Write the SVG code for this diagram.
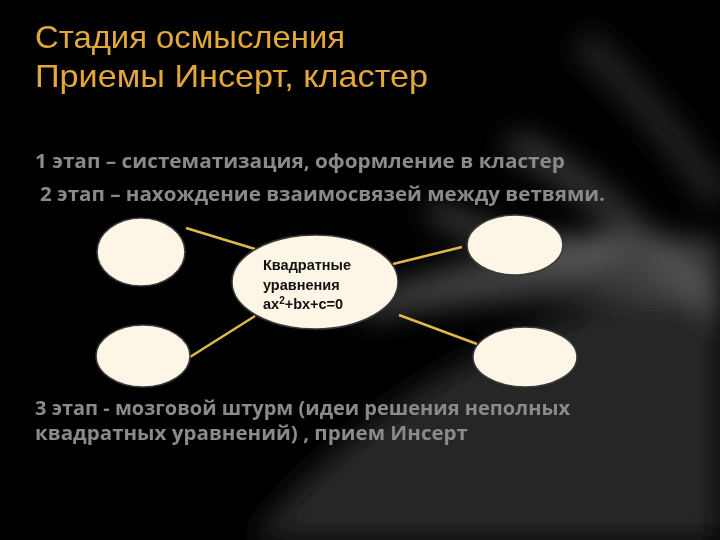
<svg xmlns="http://www.w3.org/2000/svg" width="720" height="540" viewBox="0 0 720 540">
<defs>
<filter id="blur"><feGaussianBlur stdDeviation="14"/></filter>
<style>
.t{font-family:"Liberation Sans",sans-serif;fill:#e4a83a;font-size:32px}
.s{font-family:"Open Sans","Liberation Sans",sans-serif;font-weight:bold;fill:#8a8a8a;font-size:20px}
.n{fill:#fdf5e6;stroke:#3a3a3a;stroke-width:1.5}
.c{stroke:#e0b84a;stroke-width:2.5}
.l{font-family:"Liberation Sans",sans-serif;font-weight:bold;font-size:14.5px;fill:#111}
</style>
</defs>
<rect width="720" height="540" fill="#000"/>
<g filter="url(#blur)">
<path d="M250 540 C380 380 560 300 720 280 L720 540 Z" fill="#262626"/>
<path d="M360 300 C470 250 600 230 720 240 L720 300 C600 290 480 300 360 320 Z" fill="#5a5a5a" opacity="0.7"/>
<path d="M520 130 C600 170 660 230 720 300 L720 330 C650 260 590 200 500 150 Z" fill="#666" opacity="0.5"/>
<path d="M430 210 C500 240 560 260 620 240" stroke="#ccc" stroke-width="18" fill="none" opacity="0.35"/>
<path d="M580 40 C640 90 690 160 720 200" stroke="#444" stroke-width="30" fill="none" opacity="0.5"/>
</g>
<text class="t" x="35" y="48" textLength="310" lengthAdjust="spacingAndGlyphs">Стадия осмысления</text>
<text class="t" x="35" y="87" textLength="393" lengthAdjust="spacingAndGlyphs">Приемы  Инсерт, кластер</text>
<text class="s" x="35" y="168" textLength="530" lengthAdjust="spacingAndGlyphs">1  этап – систематизация, оформление в кластер</text>
<text class="s" x="40" y="201" textLength="565" lengthAdjust="spacingAndGlyphs">2  этап – нахождение взаимосвязей между ветвями.</text>
<g id="connectors">
<line class="c" x1="186" y1="228" x2="255" y2="249"/>
<line class="c" x1="462" y1="247" x2="393" y2="264"/>
<line class="c" x1="190" y1="357" x2="255" y2="316"/>
<line class="c" x1="399" y1="315" x2="477" y2="344"/>
</g>
<g id="n1"><ellipse class="n" cx="141" cy="252" rx="44" ry="34"/></g>
<g id="n2"><ellipse class="n" cx="515" cy="245" rx="48" ry="30"/></g>
<g id="n3"><ellipse class="n" cx="143" cy="356" rx="47" ry="31"/></g>
<g id="n4"><ellipse class="n" cx="525" cy="357" rx="52" ry="30"/></g>
<g id="center"><ellipse class="n" cx="315" cy="282" rx="83" ry="47"/>
<text class="l" x="263" y="270">Квадратные</text>
<text class="l" x="263" y="290">уравнения</text>
<text class="l" x="263" y="309">ax<tspan font-size="10" dy="-5">2</tspan><tspan dy="5">+bx+c=0</tspan></text>
</g>
<text class="s" x="35" y="415" textLength="535" lengthAdjust="spacingAndGlyphs">3  этап  - мозговой штурм (идеи решения неполных</text>
<text class="s" x="35" y="440" textLength="433" lengthAdjust="spacingAndGlyphs">квадратных уравнений) , прием Инсерт</text>
</svg>
